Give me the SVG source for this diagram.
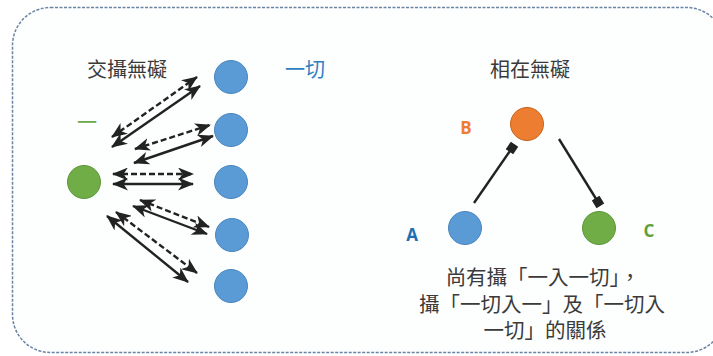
<svg xmlns="http://www.w3.org/2000/svg" width="713" height="356" viewBox="0 0 713 356">
<defs>
<style>
.t{font-family:"Noto Sans CJK TC","Noto Sans",sans-serif;fill:#3a3a3a;font-size:20px;text-anchor:middle}
.cap{font-size:20.5px}
.lbl{font-family:"Open Sans","Liberation Sans",sans-serif;font-weight:bold;font-size:17px;text-anchor:middle}
.ln{stroke:#222;stroke-width:2.4;fill:none}
.sol{marker-start:url(#st);marker-end:url(#st)}
.dsh{stroke-dasharray:6 3;marker-start:url(#st);marker-end:url(#st)}
.sq{marker-end:url(#sqm)}
.blue{fill:#5b9bd5;stroke:#4a86bd;stroke-width:1}
.green{fill:#70ad47;stroke:#5e9639;stroke-width:1}
.orange{fill:#ed7d31;stroke:#c8631c;stroke-width:1}
</style>
<marker id="st" markerUnits="userSpaceOnUse" markerWidth="16" markerHeight="13" viewBox="0 0 16 13" refX="15" refY="6.5" orient="auto-start-reverse">
<path d="M0,0 L16,6.5 L0,13 L4.5,6.5 z" fill="#222"/>
</marker>
<marker id="sqm" markerUnits="userSpaceOnUse" markerWidth="11" markerHeight="11" viewBox="0 0 11 11" refX="5.5" refY="5.5" orient="auto">
<rect x="1" y="1" width="9" height="9" fill="#222"/>
</marker>
</defs>
<rect x="12.5" y="7.5" width="712" height="345" rx="38" ry="38" fill="#fdfefe" stroke="#6a83a3" stroke-width="1.5" stroke-dasharray="3 1.5"/>

<g id="connectors">
<line class="ln dsh" x1="112" y1="137" x2="197" y2="77"/>
<line class="ln sol" x1="112" y1="147" x2="200" y2="86"/>
<line class="ln dsh" x1="135" y1="149" x2="210" y2="125"/>
<line class="ln sol" x1="134" y1="163" x2="213" y2="136"/>
<line class="ln dsh" x1="113" y1="174" x2="193" y2="174"/>
<line class="ln sol" x1="113" y1="184" x2="193" y2="184"/>
<line class="ln dsh" x1="140" y1="200" x2="209" y2="227"/>
<line class="ln sol" x1="133" y1="206" x2="207" y2="234"/>
<line class="ln dsh" x1="116" y1="212" x2="197" y2="273"/>
<line class="ln sol" x1="107" y1="216" x2="188" y2="282"/>
<line class="ln sq" x1="474" y1="203" x2="512" y2="148"/>
<line class="ln sq" x1="559" y1="139" x2="598" y2="202"/>
</g>

<g id="title-left"><text class="t" x="127" y="77">交攝無礙</text></g>
<g id="label-yiqie"><text class="t" x="305" y="77" style="fill:#2e7fc2">一切</text></g>
<g id="label-yi"><text class="t" x="87" y="130" style="fill:#6aa84f">一</text></g>

<g id="one"><circle class="green" cx="84" cy="182" r="16.5"/></g>
<g id="all1"><circle class="blue" cx="231" cy="77" r="16.5"/></g>
<g id="all2"><circle class="blue" cx="231" cy="130" r="16.5"/></g>
<g id="all3"><circle class="blue" cx="231" cy="182" r="16.5"/></g>
<g id="all4"><circle class="blue" cx="232" cy="235" r="16.5"/></g>
<g id="all5"><circle class="blue" cx="231" cy="286" r="16.5"/></g>

<g id="title-right"><text class="t" x="530" y="77">相在無礙</text></g>
<g id="nodeB"><circle class="orange" cx="527" cy="124" r="16.5"/><text class="lbl" x="466" y="134" style="fill:#ed7d31">B</text></g>
<g id="nodeA"><circle class="blue" cx="465" cy="228" r="16.5"/><text class="lbl" x="412" y="241" style="fill:#1f6fb4">A</text></g>
<g id="nodeC"><circle class="green" cx="599" cy="228" r="16.5"/><text class="lbl" x="649" y="237" style="fill:#5fa03a">C</text></g>

<g id="caption">
<text class="t cap" x="543" y="285">尚有攝「一入一切」，</text>
<text class="t cap" x="542" y="312">攝「一切入一」及「一切入</text>
<text class="t cap" x="545" y="338">一切」的關係</text>
</g>
</svg>
